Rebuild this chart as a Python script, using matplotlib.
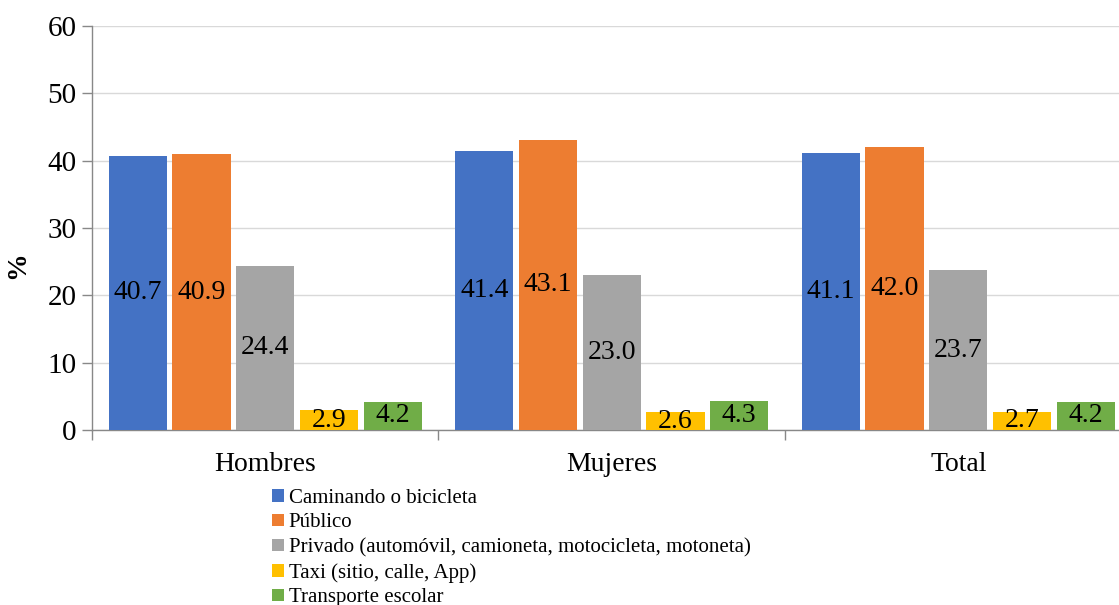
import numpy as np
import matplotlib.pyplot as plt

plt.rcParams['font.family'] = ['Liberation Serif', 'DejaVu Serif']

grupos = ['Hombres', 'Mujeres', 'Total']
series = [
    'Caminando o bicicleta',
    'Público',
    'Privado (automóvil, camioneta, motocicleta, motoneta)',
    'Taxi (sitio, calle, App)',
    'Transporte escolar',
]
valores = [
    [40.7, 41.4, 41.1],
    [40.9, 43.1, 42.0],
    [24.4, 23.0, 23.7],
    [2.9, 2.6, 2.7],
    [4.2, 4.3, 4.2],
]
colores = ['#4472C4', '#ED7D31', '#A5A5A5', '#FFC000', '#70AD47']

fig = plt.figure(figsize=(11.19, 6.05), dpi=100)
ax = fig.add_axes([0.0822, 0.2893, 0.929, 0.668])

x = np.arange(len(grupos))
paso = 0.184
ancho = 0.168
handles = []
for i, (nombre, vals, c) in enumerate(zip(series, valores, colores)):
    b = ax.bar(x + (i - 2) * paso, vals, ancho, color=c, label=nombre, zorder=3)
    ax.bar_label(b, labels=[f'{v:.1f}' for v in vals], label_type='center',
                 fontsize=20, color='black', zorder=4)
    handles.append(b)

ax.set_xlim(-0.5, 2.5)
ax.set_ylim(0, 60)
ax.set_yticks(range(0, 61, 10))
ax.set_xticks(x)
ax.set_xticklabels(grupos, fontsize=20)
ax.set_xticks([-0.5, 0.5, 1.5, 2.5], minor=True)
ax.tick_params(axis='x', which='major', length=0, pad=16)
ax.tick_params(axis='x', which='minor', length=7, color='#888888', width=1)
ax.tick_params(axis='y', labelsize=21, length=7, color='#888888', width=1, pad=4)
ax.yaxis.grid(True, color='#d9d9d9', linewidth=1, zorder=0)
ax.set_axisbelow(True)
for s in ['top', 'right']:
    ax.spines[s].set_visible(False)
for s in ['left', 'bottom']:
    ax.spines[s].set_color('#888888')
    ax.spines[s].set_linewidth(1)

ax.set_ylabel('%', fontsize=20, fontweight='bold')
ax.yaxis.set_label_coords(-0.0595, 0.408)

fig.legend(handles=handles, labels=series, loc='upper left',
           bbox_to_anchor=(0.243, 0.192), frameon=False, fontsize=15,
           handlelength=0.56, handleheight=0.56, handletextpad=0.25,
           labelspacing=0.27, borderaxespad=0, borderpad=0)

fig.savefig('out.png', dpi=100)
